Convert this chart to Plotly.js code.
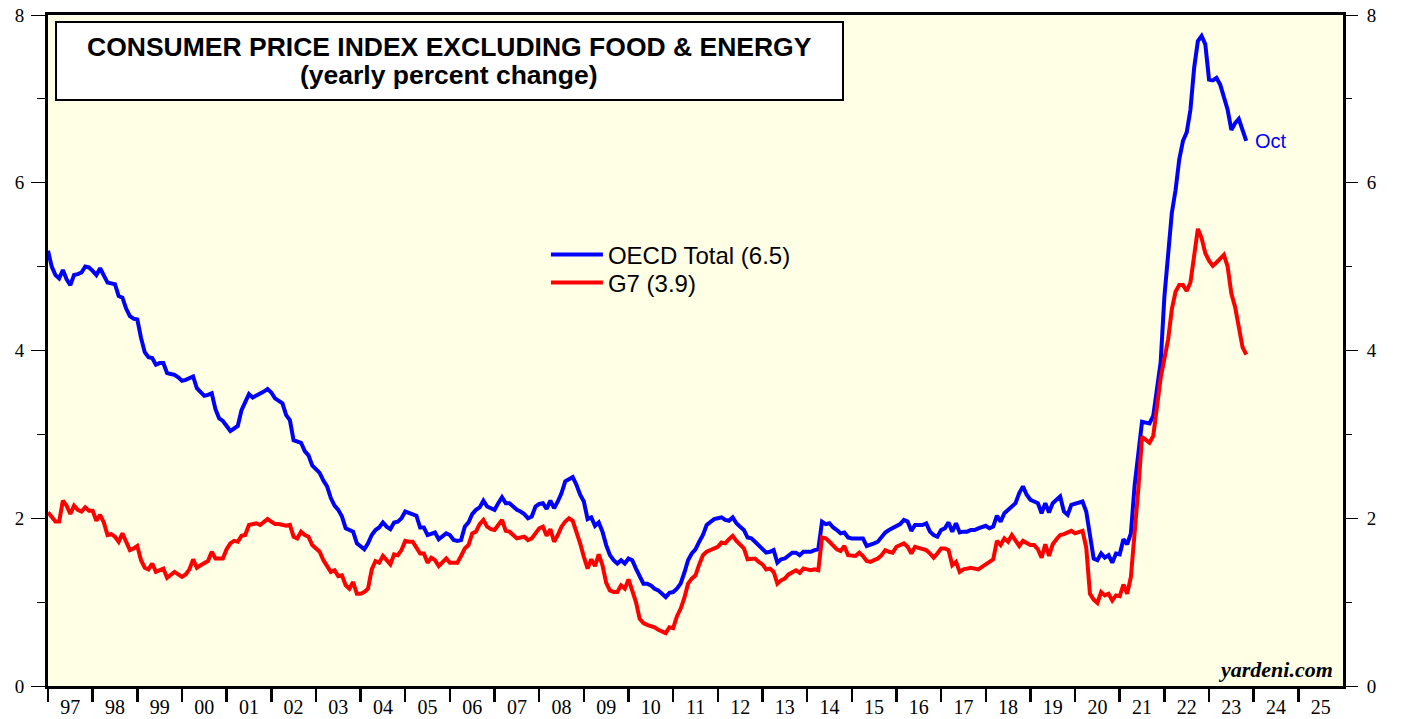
<!DOCTYPE html>
<html>
<head>
<meta charset="utf-8">
<script src="https://cdn.plot.ly/plotly-3.0.1.min.js"></script>
<style>
  html, body { margin: 0; padding: 0; background: #ffffff; }
  #chart { width: 1403px; height: 719px; }
</style>
</head>
<body>
<div id="chart"></div>
<script>
// Monthly data, first value = Dec 1996, last value = Oct 2023 (yearly % change)
const startYear = 1996;
const startMonth = 12;

const oecdTotal = [
  5.19,
  5.00,4.90,4.86,4.96,4.85,4.78,4.90,4.91,4.93,5.00,4.99,4.95,   // 1997
  4.90,4.98,4.90,4.81,4.80,4.79,4.65,4.63,4.50,4.41,4.38,4.37,   // 1998
  4.15,3.98,3.92,3.91,3.83,3.85,3.85,3.73,3.72,3.71,3.68,3.64,   // 1999
  3.65,3.67,3.69,3.55,3.50,3.46,3.47,3.49,3.30,3.19,3.16,3.10,   // 2000
  3.04,3.07,3.10,3.29,3.38,3.48,3.44,3.46,3.48,3.51,3.54,3.50,   // 2001
  3.43,3.40,3.37,3.23,3.17,2.93,2.92,2.90,2.80,2.75,2.63,2.58,   // 2002
  2.54,2.45,2.38,2.24,2.15,2.10,2.02,1.88,1.86,1.84,1.70,1.66,   // 2003
  1.63,1.70,1.80,1.86,1.89,1.95,1.90,1.87,1.95,1.96,2.00,2.08,   // 2004
  2.06,2.05,2.03,1.89,1.89,1.80,1.82,1.83,1.75,1.78,1.82,1.80,   // 2005
  1.74,1.73,1.74,1.90,1.95,2.05,2.10,2.13,2.21,2.14,2.12,2.10,   // 2006
  2.18,2.25,2.18,2.18,2.14,2.10,2.08,2.05,2.00,2.02,2.14,2.17,   // 2007
  2.18,2.11,2.21,2.12,2.20,2.30,2.44,2.47,2.49,2.40,2.28,2.20,   // 2008
  1.99,2.01,1.91,1.95,1.84,1.68,1.56,1.50,1.46,1.50,1.46,1.52,   // 2009
  1.50,1.40,1.30,1.22,1.22,1.20,1.16,1.14,1.10,1.06,1.11,1.12,   // 2010
  1.16,1.22,1.35,1.50,1.58,1.63,1.72,1.80,1.92,1.96,1.99,2.00,   // 2011
  2.01,1.98,1.97,2.01,1.94,1.90,1.86,1.77,1.76,1.72,1.68,1.63,   // 2012
  1.59,1.60,1.62,1.47,1.51,1.52,1.56,1.59,1.59,1.56,1.60,1.60,   // 2013
  1.60,1.62,1.63,1.96,1.93,1.94,1.89,1.86,1.82,1.83,1.77,1.76,   // 2014
  1.76,1.76,1.76,1.67,1.68,1.70,1.72,1.77,1.83,1.86,1.88,1.91,   // 2015
  1.93,1.98,1.96,1.85,1.92,1.92,1.92,1.94,1.84,1.80,1.78,1.86,   // 2016
  1.88,1.95,1.84,1.94,1.83,1.84,1.84,1.86,1.86,1.88,1.89,1.91,   // 2017
  1.88,1.90,2.03,1.96,2.06,2.10,2.14,2.18,2.30,2.38,2.28,2.22,   // 2018
  2.20,2.18,2.06,2.18,2.07,2.18,2.22,2.26,2.08,2.04,2.16,2.17,   // 2019
  2.18,2.20,2.08,1.78,1.52,1.50,1.58,1.53,1.56,1.47,1.58,1.57,   // 2020
  1.75,1.69,1.82,2.39,2.76,3.15,3.14,3.13,3.22,3.54,3.86,4.64,   // 2021
  5.09,5.64,5.91,6.28,6.50,6.60,6.87,7.37,7.69,7.75,7.65,7.23,   // 2022
  7.22,7.25,7.17,7.03,6.87,6.63,6.71,6.76,6.64,6.50              // 2023
];

const g7 = [
  2.07,
  2.01,1.96,1.96,2.21,2.15,2.05,2.15,2.10,2.08,2.13,2.09,2.09,   // 1997
  1.97,2.04,1.95,1.80,1.81,1.78,1.72,1.82,1.72,1.62,1.64,1.67,   // 1998
  1.50,1.41,1.39,1.46,1.36,1.38,1.40,1.29,1.32,1.36,1.33,1.30,   // 1999
  1.33,1.39,1.51,1.41,1.44,1.47,1.49,1.60,1.52,1.52,1.52,1.63,   // 2000
  1.70,1.73,1.72,1.79,1.80,1.92,1.93,1.94,1.92,1.95,1.99,1.96,   // 2001
  1.93,1.93,1.92,1.91,1.92,1.78,1.76,1.84,1.80,1.78,1.68,1.64,   // 2002
  1.60,1.50,1.44,1.36,1.38,1.31,1.32,1.20,1.16,1.24,1.10,1.10,   // 2003
  1.12,1.16,1.39,1.49,1.47,1.55,1.50,1.45,1.57,1.56,1.62,1.73,   // 2004
  1.72,1.72,1.65,1.58,1.58,1.47,1.53,1.50,1.43,1.48,1.52,1.47,   // 2005
  1.47,1.47,1.55,1.64,1.68,1.82,1.84,1.93,1.98,1.90,1.87,1.86,   // 2006
  1.92,1.98,1.85,1.84,1.80,1.76,1.77,1.78,1.74,1.76,1.82,1.88,   // 2007
  1.90,1.79,1.87,1.72,1.80,1.90,1.96,2.00,1.97,1.85,1.70,1.54,   // 2008
  1.40,1.51,1.43,1.57,1.44,1.23,1.14,1.12,1.12,1.20,1.16,1.27,   // 2009
  1.12,1.00,0.80,0.75,0.73,0.72,0.70,0.67,0.65,0.63,0.70,0.69,   // 2010
  0.83,0.92,1.05,1.22,1.28,1.32,1.45,1.56,1.60,1.62,1.65,1.66,   // 2011
  1.71,1.70,1.75,1.79,1.73,1.68,1.64,1.51,1.52,1.52,1.48,1.45,   // 2012
  1.39,1.40,1.36,1.22,1.26,1.28,1.33,1.36,1.38,1.35,1.40,1.39,   // 2013
  1.38,1.39,1.38,1.77,1.76,1.72,1.67,1.63,1.61,1.67,1.56,1.55,   // 2014
  1.55,1.59,1.55,1.49,1.48,1.50,1.52,1.56,1.62,1.60,1.59,1.66,   // 2015
  1.68,1.70,1.66,1.58,1.66,1.65,1.64,1.62,1.58,1.53,1.58,1.64,   // 2016
  1.64,1.62,1.44,1.48,1.36,1.39,1.40,1.41,1.40,1.39,1.42,1.45,   // 2017
  1.48,1.51,1.73,1.68,1.76,1.72,1.80,1.74,1.67,1.73,1.70,1.68,   // 2018
  1.68,1.63,1.53,1.69,1.55,1.69,1.75,1.80,1.81,1.83,1.85,1.82,   // 2019
  1.84,1.85,1.65,1.10,1.03,0.99,1.12,1.08,1.10,1.02,1.08,1.07,   // 2020
  1.21,1.10,1.30,1.80,2.35,2.97,2.94,2.90,2.98,3.35,3.67,3.90,   // 2021
  4.13,4.49,4.70,4.78,4.78,4.71,4.81,5.13,5.45,5.34,5.16,5.07,   // 2022
  5.01,5.05,5.09,5.14,5.00,4.68,4.52,4.27,4.04,3.95              // 2023
];

const seriesNames = ['OECD Total (6.5)', 'G7 (3.9)'];
const yearLabels = ['97','98','99','00','01','02','03','04','05','06','07','08','09','10',
  '11','12','13','14','15','16','17','18','19','20','21','22','23','24','25'];
const firstYear = 1997;
const lastMonthLabel = 'Oct';
const titleLines = ['CONSUMER PRICE INDEX EXCLUDING FOOD &amp; ENERGY', '(yearly percent change)'];

// month-end positions on a decimal-year axis
function timeAxis(n) {
  const t = [];
  for (let i = 0; i < n; i++) t.push(startYear + (startMonth + i) / 12);
  return t;
}
const tBlue = timeAxis(oecdTotal.length);
const tRed = timeAxis(g7.length);

const yearStarts = yearLabels.map((_, i) => firstYear + i);
const yearMids = yearLabels.map((_, i) => firstYear + i + 0.5);
const xRange = [firstYear, firstYear + yearLabels.length];

const serif = 'Liberation Serif, Times New Roman, serif';
const sans = 'Liberation Sans, Arial, sans-serif';

const traces = [
  { x: tBlue, y: oecdTotal, type: 'scatter', mode: 'lines', name: seriesNames[0],
    line: { color: '#0000FF', width: 4 }, xaxis: 'x', yaxis: 'y', legend: 'legend' },
  { x: tRed, y: g7, type: 'scatter', mode: 'lines', name: seriesNames[1],
    line: { color: '#FF0000', width: 4 }, xaxis: 'x', yaxis: 'y', legend: 'legend2' },
  // invisible trace to activate the secondary axes (tick marks / right labels)
  { x: [xRange[0]], y: [0], type: 'scatter', mode: 'markers', marker: { opacity: 0 },
    showlegend: false, hoverinfo: 'skip', xaxis: 'x2', yaxis: 'y2' }
];

const yCommon = {
  range: [0, 8], tickvals: [0, 2, 4, 6, 8], ticks: 'outside', ticklen: 14, tickwidth: 1,
  tickcolor: '#000', showgrid: false, zeroline: false,
  minor: { tickvals: [1, 3, 5, 7], ticks: 'outside', ticklen: 8, tickwidth: 1, tickcolor: '#000', showgrid: false },
  tickfont: { family: serif, size: 19, color: '#000' }, fixedrange: true
};

const legendCommon = {
  xanchor: 'left', yanchor: 'middle', bgcolor: 'rgba(0,0,0,0)', borderwidth: 0,
  font: { family: sans, size: 24, color: '#000' }, itemwidth: 52
};

const layout = {
  width: 1403, height: 719,
  margin: { l: 48, r: 60, t: 15, b: 33, pad: 0 },
  paper_bgcolor: '#ffffff',
  plot_bgcolor: '#FFFFE6',
  showlegend: true,
  legend: Object.assign({}, legendCommon, { x: 0.3845, y: 0.6423 }),
  legend2: Object.assign({}, legendCommon, { x: 0.3845, y: 0.6006 }),
  xaxis: {
    range: xRange, tickvals: yearMids, ticktext: yearLabels, ticks: '',
    showgrid: false, zeroline: false, showline: true, linewidth: 3, linecolor: '#000',
    mirror: true, ticklabelstandoff: 1,
    tickfont: { family: serif, size: 20, color: '#000' }, fixedrange: true
  },
  xaxis2: {
    range: xRange, overlaying: 'x', anchor: 'y', side: 'bottom',
    tickvals: yearStarts, showticklabels: false, ticks: 'outside', ticklen: 15,
    tickwidth: 2.5, tickcolor: '#000', showgrid: false, zeroline: false, showline: false, fixedrange: true
  },
  yaxis: Object.assign({}, yCommon, {
    side: 'left', showline: true, linewidth: 3, linecolor: '#000', mirror: true, ticklabelstandoff: 3
  }),
  yaxis2: Object.assign({}, yCommon, {
    side: 'right', overlaying: 'y', anchor: 'x', showline: false, ticklabelstandoff: 5
  }),
  shapes: [
    { type: 'rect', xref: 'paper', yref: 'paper', x0: 0.0062, x1: 0.6139, y0: 0.8733, y1: 0.9896,
      fillcolor: '#ffffff', line: { color: '#000', width: 2 }, layer: 'above' }
  ],
  annotations: [
    {
      xref: 'paper', yref: 'paper', x: 0.3100, y: 0.9523, xanchor: 'center', yanchor: 'middle',
      text: '<b>' + titleLines[0] + '</b>', showarrow: false,
      font: { family: sans, size: 26.5, color: '#000' }
    },
    {
      xref: 'paper', yref: 'paper', x: 0.3100, y: 0.9106, xanchor: 'center', yanchor: 'middle',
      text: '<b>' + titleLines[1] + '</b>', showarrow: false,
      font: { family: sans, size: 26.5, color: '#000' }
    },
    {
      xref: 'x', yref: 'y', x: tBlue[tBlue.length - 1], y: oecdTotal[oecdTotal.length - 1],
      text: lastMonthLabel, showarrow: false, xanchor: 'left', yanchor: 'middle', xshift: 7,
      font: { family: sans, size: 20, color: '#0000FF' }
    },
    {
      xref: 'paper', yref: 'paper', x: 0.9935, y: 0.024, xanchor: 'right', yanchor: 'middle',
      text: '<b><i>yardeni.com</i></b>', showarrow: false,
      font: { family: serif, size: 22, color: '#000' }
    }
  ]
};

Plotly.newPlot('chart', traces, layout, { displayModeBar: false, staticPlot: true });
</script>
</body>
</html>
